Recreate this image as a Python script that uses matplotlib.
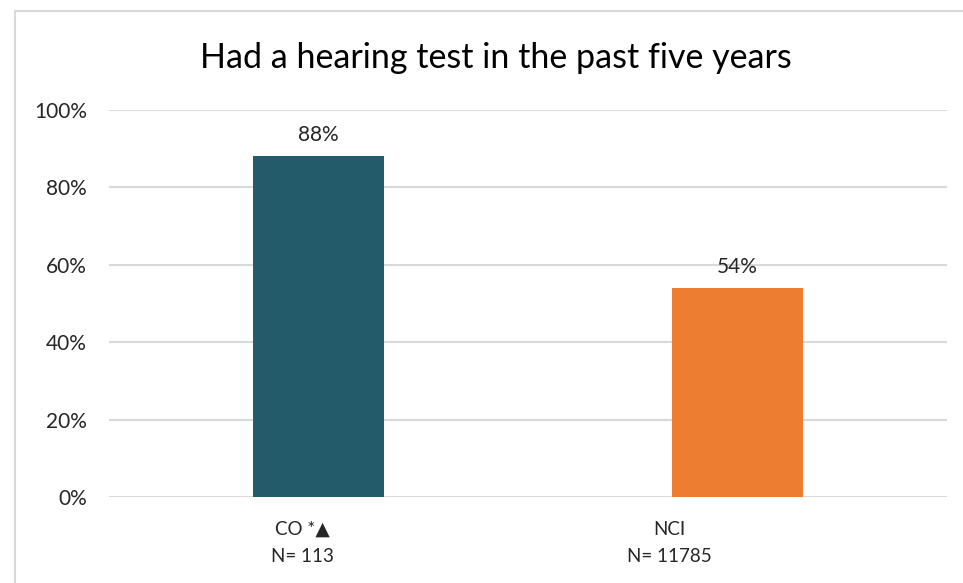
import numpy as np
import matplotlib.pyplot as plt
from matplotlib.patches import Rectangle
from matplotlib.ticker import FuncFormatter
import matplotlib.transforms as mtransforms

plt.rcParams['font.family'] = ['Lato', 'DejaVu Sans']

groups = ['CO *▲\nN= 113', 'NCI\nN= 11785']
values = [88, 54]
colors = ['#235B6A', '#ED7D31']
value_labels = ['88%', '54%']

fig = plt.figure(figsize=(9.63, 5.83), dpi=100)
ax = fig.add_axes([109 / 963, 1 - 497 / 583, 838 / 963, 387 / 583])

# light border round the chart area
fig.patches.append(Rectangle((15 / 963, -0.05), 1.1, 1 - 11 / 583 + 0.05,
                             transform=fig.transFigure, fill=False,
                             edgecolor='#D9D9D9', linewidth=1.5))

x = np.arange(len(groups))
bars = ax.bar(x, values, width=0.315, color=colors, zorder=3)

for b, lab in zip(bars, value_labels):
    ax.annotate(lab, (b.get_x() + b.get_width() / 2, b.get_height()),
                xytext=(0, 8), textcoords='offset points',
                ha='center', va='bottom', fontsize=15, color='#262626')

ax.set_xlim(-0.5, 1.5)
ax.set_ylim(0, 100)
ax.set_yticks(np.arange(0, 101, 20))
ax.yaxis.set_major_formatter(FuncFormatter(lambda v, p: f'{int(v)}%'))
ax.set_xticks(x)
ax.set_xticklabels(groups, fontsize=13.5, color='#262626', linespacing=1.75)
ax.tick_params(axis='y', labelsize=15, labelcolor='#262626', length=0, pad=16)
ax.tick_params(axis='x', length=0, pad=17)

# category labels sit a little left of the bar centres in the original
shifts = [-16, -68]
for lbl, dx in zip(ax.get_xticklabels(), shifts):
    lbl.set_transform(lbl.get_transform() +
                      mtransforms.ScaledTranslation(dx / 100, 0, fig.dpi_scale_trans))

ax.grid(axis='y', color='#D9D9D9', linewidth=1.5, zorder=0)
for s in ax.spines.values():
    s.set_visible(False)

fig.text(496 / 963, 1 - 58 / 583, 'Had a hearing test in the past five years',
         ha='center', va='center', fontsize=24.5, color='#000000')

fig.savefig('out.png', dpi=100)
